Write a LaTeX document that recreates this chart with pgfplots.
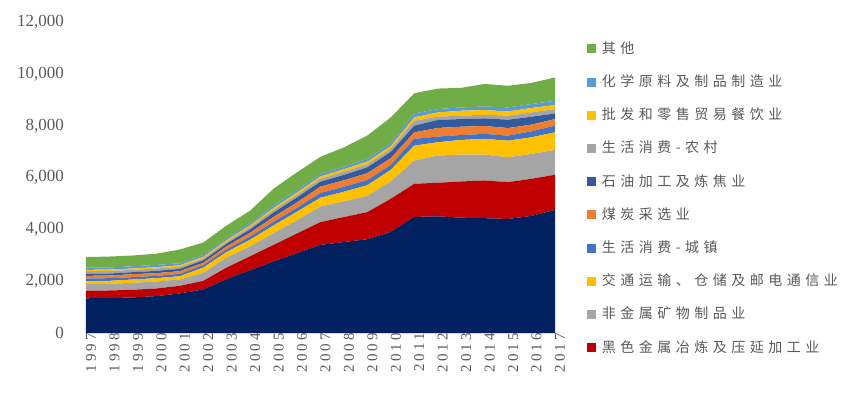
\documentclass[border=0pt]{standalone}
\usepackage{fontspec}
\setmainfont{Liberation Serif}
\newfontfamily\cjk[LetterSpace=32]{Noto Sans CJK SC}
\newfontfamily\yearfont[LetterSpace=20]{Liberation Serif}
\usepackage{pgfplots}
\usepackage{pgfplotstable}
\pgfplotsset{compat=1.18}
\definecolor{c0}{HTML}{002060}
\definecolor{c1}{HTML}{C00000}
\definecolor{c2}{HTML}{A5A5A5}
\definecolor{c3}{HTML}{FFC000}
\definecolor{c4}{HTML}{4472C4}
\definecolor{c5}{HTML}{ED7D31}
\definecolor{c6}{HTML}{345A9E}
\definecolor{c7}{HTML}{A5A5A5}
\definecolor{c8}{HTML}{FFC000}
\definecolor{c9}{HTML}{5B9BD5}
\definecolor{c10}{HTML}{70AD47}
\definecolor{txt}{HTML}{595959}
\definecolor{axl}{HTML}{D9D9D9}

\pgfplotstableread{
year a0 a1 a2 a3 a4 a5 a6 a7 a8 a9 a10
1997 1340 290 255 115 100 105 75 105 50 92 403
1998 1345 295 257 115 103 103 77 101 54 77 423
1999 1373 294 269 129 89 115 77 89 53 89 413
2000 1423 295 270 127 90 103 88 92 50 89 433
2001 1526 294 245 125 90 105 88 77 65 77 528
2002 1680 332 308 207 88 90 102 65 63 77 478
2003 2080 447 384 217 102 116 104 61 66 77 496
2004 2420 540 380 260 120 150 130 80 70 90 480
2005 2760 640 450 300 140 190 170 90 80 100 650
2006 3080 760 510 330 150 210 190 100 90 100 680
2007 3400 880 600 340 180 250 190 110 90 100 660
2008 3510 963 607 370 190 250 210 120 100 100 740
2009 3620 1045 625 410 200 270 220 120 100 110 900
2010 3900 1280 670 450 180 270 240 120 100 120 990
2011 4480 1277 897 576 258 254 258 192 128 153 777
2012 4500 1296 1050 514 217 333 310 125 165 130 790
2013 4450 1396 1039 565 190 320 295 130 190 130 755
2014 4430 1455 1000 605 190 305 295 140 180 140 870
2015 4400 1420 960 640 195 295 320 155 165 155 835
2016 4520 1430 960 640 230 260 305 165 170 155 815
2017 4750 1354 961 680 255 255 215 170 155 165 900
}\datatable

\begin{document}
\begin{tikzpicture}
\path[use as bounding box] (-86pt,-62pt) rectangle (779pt,333pt);
\begin{axis}[
  at={(0pt,0pt)}, anchor=south west,
  scale only axis, width=469pt, height=311pt,
  xmin=1997, xmax=2017, ymin=0, ymax=12000,
  stack plots=y,
  axis lines*=left,
  y axis line style={draw=none},
  x axis line style={draw=axl, line width=1.5pt},
  tick style={draw=none},
  xtick={1997,1998,1999,2000,2001,2002,2003,2004,2005,2006,2007,2008,2009,2010,2011,2012,2013,2014,2015,2016,2017},
  xticklabels={1997,1998,1999,2000,2001,2002,2003,2004,2005,2006,2007,2008,2009,2010,2011,2012,2013,2014,2015,2016,2017},
  xticklabel style={rotate=90, anchor=east, inner sep=0pt, yshift=-5pt, text=txt, font=\yearfont\fontsize{15}{17}\selectfont},
  ytick={0,2000,4000,6000,8000,10000,12000},
  yticklabel style={inner sep=0pt, anchor=east, xshift=-22pt, text=txt, font=\fontsize{17}{20}\selectfont,
    /pgf/number format/.cd, fixed, 1000 sep={,}, assume math mode=true},
  scaled y ticks=false,
  reverse legend,
  legend image code/.code={\fill[#1] (0pt,-4.5pt) rectangle (9pt,4.5pt); \path (0pt,0pt) -- (15pt,0pt);},
  legend style={draw=none, fill=none, inner sep=0pt, outer sep=0pt,
    at={(1.0682,0.9347)}, anchor=north west, legend cell align=left,
    row sep=20.2pt, font=\cjk\fontsize{14}{16}\selectfont, text=txt,
    nodes={inner sep=0pt, text height=11pt, text depth=2pt}},
]
\addplot[fill=c0, draw=none, forget plot] table[x=year, y=a0] {\datatable} \closedcycle;
\addplot[fill=c1, draw=none] table[x=year, y=a1] {\datatable} \closedcycle;
\addlegendentry{黑色金属冶炼及压延加工业}
\addplot[fill=c2, draw=none] table[x=year, y=a2] {\datatable} \closedcycle;
\addlegendentry{非金属矿物制品业}
\addplot[fill=c3, draw=none] table[x=year, y=a3] {\datatable} \closedcycle;
\addlegendentry{交通运输、仓储及邮电通信业}
\addplot[fill=c4, draw=none] table[x=year, y=a4] {\datatable} \closedcycle;
\addlegendentry{生活消费-城镇}
\addplot[fill=c5, draw=none] table[x=year, y=a5] {\datatable} \closedcycle;
\addlegendentry{煤炭采选业}
\addplot[fill=c6, draw=none] table[x=year, y=a6] {\datatable} \closedcycle;
\addlegendentry{石油加工及炼焦业}
\addplot[fill=c7, draw=none] table[x=year, y=a7] {\datatable} \closedcycle;
\addlegendentry{生活消费-农村}
\addplot[fill=c8, draw=none] table[x=year, y=a8] {\datatable} \closedcycle;
\addlegendentry{批发和零售贸易餐饮业}
\addplot[fill=c9, draw=none] table[x=year, y=a9] {\datatable} \closedcycle;
\addlegendentry{化学原料及制品制造业}
\addplot[fill=c10, draw=none] table[x=year, y=a10] {\datatable} \closedcycle;
\addlegendentry{其他}
\end{axis}
\end{tikzpicture}
\end{document}
